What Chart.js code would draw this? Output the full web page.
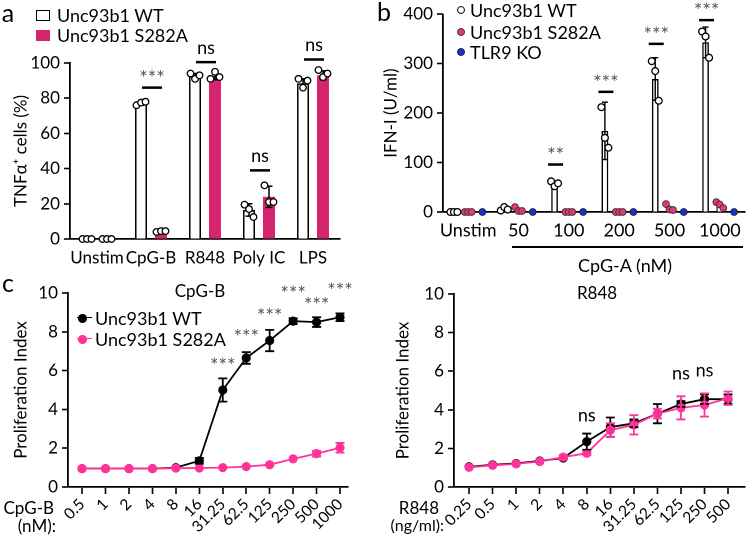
<!DOCTYPE html>
<html><head><meta charset="utf-8">
<script src="https://cdn.jsdelivr.net/npm/chart.js@4.4.1/dist/chart.umd.min.js"></script>
<style>
html,body{margin:0;padding:0;background:#fff}
body{width:750px;height:541px;position:relative;overflow:hidden;font-family:Lato,"Open Sans",sans-serif;color:#000}
canvas{position:absolute}
.t{position:absolute;white-space:nowrap;line-height:1;font-size:18px}
.c{transform:translate(-50%,-50%)}
.l{transform:translate(0,-50%)}
.r{transform:translate(-100%,-50%)}
.sw{position:absolute;box-sizing:border-box}
</style></head><body>
<canvas id="ca" width="375" height="270" style="left:0;top:0;width:375px;height:270px"></canvas>
<canvas id="cb" width="375" height="270" style="left:375px;top:0;width:375px;height:270px"></canvas>
<canvas id="cc" width="375" height="271" style="left:0;top:270px;width:375px;height:271px"></canvas>
<canvas id="cd" width="375" height="271" style="left:375px;top:270px;width:375px;height:271px"></canvas>

<!-- panel letters -->
<div class="t c" style="left:8px;top:12px;font-size:25px">a</div>
<div class="t c" style="left:384px;top:11px;font-size:25px">b</div>
<div class="t c" style="left:8px;top:282px;font-size:25px">c</div>

<!-- legend a -->
<div class="sw" style="left:36px;top:10px;width:14px;height:11px;border:1.5px solid #000;background:#fff"></div>
<div class="t l" style="left:57px;top:15px">Unc93b1 WT</div>
<div class="sw" style="left:36px;top:30px;width:14px;height:11px;background:#d6246e"></div>
<div class="t l" style="left:57px;top:35px">Unc93b1 S282A</div>

<!-- legend b -->
<div class="sw" style="left:457px;top:6px;width:8px;height:8px;border-radius:50%;border:1.3px solid #000;background:#fff"></div>
<div class="t l" style="left:470px;top:10px">Unc93b1 WT</div>
<div class="sw" style="left:457px;top:28px;width:8px;height:8px;border-radius:50%;border:1px solid #333;background:#e8367c"></div>
<div class="t l" style="left:470px;top:32px">Unc93b1 S282A</div>
<div class="sw" style="left:457px;top:48px;width:8px;height:8px;border-radius:50%;border:1px solid #222;background:#1a2fd0"></div>
<div class="t l" style="left:470px;top:52px">TLR9 KO</div>

<!-- b bracket -->
<div class="sw" style="left:512px;top:246px;width:231px;height:0;border-top:2px solid #000"></div>
<div class="t c" style="left:625px;top:265px">CpG-A (nM)</div>

<!-- legend c -->
<div class="sw" style="left:77px;top:317px;width:15px;height:0;border-top:1.8px solid #000"></div>
<div class="sw" style="left:78px;top:314px;width:9px;height:9px;border-radius:50%;background:#000"></div>
<div class="t l" style="left:95px;top:318px">Unc93b1 WT</div>
<div class="sw" style="left:77px;top:338px;width:15px;height:0;border-top:1.8px solid #ff3399"></div>
<div class="sw" style="left:78px;top:335px;width:9px;height:9px;border-radius:50%;background:#ff3399"></div>
<div class="t l" style="left:95px;top:339px">Unc93b1 S282A</div>

<!-- titles c/d -->
<div class="t c" style="left:200px;top:290px;font-size:17px">CpG-B</div>
<div class="t c" style="left:597px;top:292px;font-size:17px">R848</div>

<!-- x labels c/d -->
<div class="t r" style="left:54px;top:507px;font-size:17px">CpG-B</div>
<div class="t r" style="left:56px;top:525px;font-size:17px">(nM):</div>
<div class="t r" style="left:439px;top:507px;font-size:17px">R848</div>
<div class="t r" style="left:444px;top:525px;font-size:16px">(ng/ml):</div>

<script>
// ---------- Panel a data ----------
const catsA = ['Unstim', 'CpG-B', 'R848', 'Poly IC', 'LPS'];
const wtA = [0, 77, 92.5, 16.5, 88.5];
const s282aA = [0, 4, 92.5, 24, 93];
const wtAerr = [0, 1, 1.5, 3.5, 2.5];
const s282aAerr = [0, 0.4, 2, 6, 2.5];
const wtAdots = [[0, 0, 0], [76, 77.5, 78], [94, 91, 93], [19.5, 17, 12.5], [91, 86, 90]];
const s282aAdots = [[0, 0, 0], [4, 4.5, 4.5], [91, 95, 92], [30.5, 21, 21], [96, 92, 94]];
const sigA = ['', '***', 'ns', 'ns', 'ns'];
const sigLevelA = [null, 86, 100.5, 39, 102];

// ---------- Panel b data ----------
const catsB = ['Unstim', '50', '100', '200', '500', '1000'];
const wtB = [0, 5, 57, 164, 269, 343];
const wtBerr = [0, 3, 5, 58, 43, 31];
const s282aB = [0, 4, 0, 0, 8, 14];
const koB = [0, 0, 0, 0, 0, 0];
const wtBdots = [[0, 0, 0], [3, 10, 5], [62, 52, 58], [212, 150, 130], [305, 285, 225], [365, 355, 312]];
const s282aBdots = [[0, 0, 0], [10, 2, 2], [0, 0, 0], [0, 0, 0], [16, 5, 4], [20, 15, 8]];
const koBdots = [[0], [0], [0], [0], [0], [0]];
const sigB = ['', '', '**', '***', '***', '***'];
const sigLevelB = [null, null, 96, 243, 340, 388];

// ---------- Panel c data ----------
const labelsC = ['0.5', '1', '2', '4', '8', '16', '31.25', '62.5', '125', '250', '500', '1000'];
const wtC = [0.95, 0.95, 0.95, 0.95, 1.0, 1.35, 5.0, 6.65, 7.55, 8.55, 8.5, 8.75];
const wtCerr = [0, 0, 0, 0, 0, 0.15, 0.6, 0.3, 0.55, 0.15, 0.25, 0.2];
const s282aC = [0.95, 0.95, 0.95, 0.95, 0.97, 0.98, 1.0, 1.05, 1.15, 1.45, 1.72, 2.02];
const s282aCerr = [0, 0, 0, 0, 0, 0, 0, 0, 0.05, 0.08, 0.15, 0.25];
const sigC = ['', '', '', '', '', '', '***', '***', '***', '***', '***', '***'];
const sigLevelC = [null, null, null, null, null, null, 6.45, 7.9, 9.0, 10.15, 9.55, 10.3];

// ---------- Panel d data ----------
const labelsD = ['0.25', '0.5', '1', '2', '4', '8', '16', '31.25', '62.5', '125', '250', '500'];
const wtD = [1.05, 1.15, 1.22, 1.35, 1.5, 2.35, 3.1, 3.3, 3.8, 4.3, 4.55, 4.55];
const wtDerr = [0, 0, 0, 0, 0, 0.42, 0.5, 0.2, 0.5, 0.15, 0.25, 0.25];
const s282aD = [1.02, 1.12, 1.2, 1.32, 1.55, 1.75, 2.95, 3.22, 3.8, 4.1, 4.25, 4.6];
const s282aDerr = [0, 0, 0, 0, 0.1, 0.1, 0.35, 0.5, 0.25, 0.6, 0.6, 0.35];
const sigD = ['', '', '', '', '', 'ns', '', '', '', 'ns', 'ns', ''];
const sigLevelD = [null, null, null, null, null, 3.64, null, null, null, 5.8, 5.97, null];

// ---------- styling ----------
const FONT = 'Lato, "Open Sans", sans-serif';
const PINK_A = '#d6246e', PINK_B = '#e8367c', BLUE_B = '#1a2fd0', PINK_C = '#ff3399';
Chart.defaults.font.family = FONT;
Chart.defaults.font.size = 17;
Chart.defaults.color = '#000';
Chart.defaults.animation = false;
Chart.defaults.plugins.legend.display = false;
Chart.defaults.plugins.tooltip.enabled = false;

function yAxis(min, max, step, title, titlePad, width) {
  return {
    type: 'linear', min: min, max: max,
    ticks: { stepSize: step, padding: 4, color: '#000', font: { size: 17 } },
    grid: { display: true, drawOnChartArea: false, drawTicks: true, tickLength: 6, tickColor: '#000', tickWidth: 1.6 },
    border: { display: true, color: '#000', width: 1.8 },
    title: { display: true, text: title, color: '#000', font: { size: 17 }, padding: { top: titlePad, bottom: 0 } },
    afterFit: function (s) { s.width = width; }
  };
}

function circle(ctx, x, y, r, fill, stroke, lw) {
  ctx.beginPath(); ctx.arc(x, y, r, 0, Math.PI * 2);
  if (fill) { ctx.fillStyle = fill; ctx.fill(); }
  if (stroke) { ctx.lineWidth = lw; ctx.strokeStyle = stroke; ctx.stroke(); }
}
function errBar(ctx, x, y1, y2, cap, color, lw) {
  ctx.strokeStyle = color; ctx.lineWidth = lw;
  ctx.beginPath();
  ctx.moveTo(x, y1); ctx.lineTo(x, y2);
  ctx.moveTo(x - cap / 2, y1); ctx.lineTo(x + cap / 2, y1);
  ctx.moveTo(x - cap / 2, y2); ctx.lineTo(x + cap / 2, y2);
  ctx.stroke();
}
function sigLabel(ctx, s, x, y) {
  ctx.textAlign = 'center'; ctx.textBaseline = 'alphabetic';
  if (s.indexOf('*') >= 0) {
    ctx.font = '20px ' + FONT; ctx.fillStyle = '#555';
    ctx.fillText(s, x, y + 0.55 * 20);
  } else {
    ctx.font = '18px ' + FONT; ctx.fillStyle = '#000';
    ctx.fillText(s, x, y + 0.26 * 18);
  }
}
function hline(ctx, x1, x2, y, lw) {
  ctx.strokeStyle = '#000'; ctx.lineWidth = lw;
  ctx.beginPath(); ctx.moveTo(x1, y); ctx.lineTo(x2, y); ctx.stroke();
}

// ---------- Panel a ----------
const marksA = {
  id: 'marksA',
  afterDatasetsDraw(chart) {
    const ctx = chart.ctx, ys = chart.scales.y;
    const means = [wtA, s282aA], errs = [wtAerr, s282aAerr], dots = [wtAdots, s282aAdots];
    ctx.save();
    for (let d = 0; d < 2; d++) {
      chart.getDatasetMeta(d).data.forEach(function (bar, i) {
        const m = means[d][i], e = errs[d][i];
        if (e > 0) errBar(ctx, bar.x, ys.getPixelForValue(m - e), ys.getPixelForValue(m + e), 7, '#000', 1.5);
        dots[d][i].forEach(function (v, k) {
          circle(ctx, bar.x + (k - 1) * 4.5, ys.getPixelForValue(v), 3.3, '#fff', '#000', 1.3);
        });
      });
    }
    const m0 = chart.getDatasetMeta(0).data, m1 = chart.getDatasetMeta(1).data;
    sigA.forEach(function (s, i) {
      if (!s) return;
      const cx = (m0[i].x + m1[i].x) / 2 + 1;
      const y = ys.getPixelForValue(sigLevelA[i]);
      hline(ctx, cx - 10, cx + 10, y, 2.5);
      sigLabel(ctx, s, cx, y - 13);
    });
    ctx.restore();
  }
};

new Chart(document.getElementById('ca'), {
  type: 'bar',
  data: {
    labels: catsA,
    datasets: [
      { label: 'Unc93b1 WT', data: wtA, backgroundColor: '#fff', borderColor: '#000', borderWidth: 1.6, categoryPercentage: 0.74, barPercentage: 0.6 },
      { label: 'Unc93b1 S282A', data: s282aA, backgroundColor: PINK_A, borderWidth: 0, categoryPercentage: 0.74, barPercentage: 0.6 }
    ]
  },
  options: {
    responsive: false, devicePixelRatio: 2,
    layout: { padding: { top: 63, right: 35, left: 0, bottom: 0 } },
    scales: {
      x: {
        grid: { display: false, drawTicks: false }, border: { display: true, color: '#000', width: 1.8 },
        ticks: { padding: 9, color: '#000', font: { size: 17 }, autoSkip: false, maxRotation: 0 },
        afterFit: function (s) { s.height = 31; }
      },
      y: yAxis(0, 100, 20, 'TNFα\u207A cells (%)', 11, 70)
    }
  },
  plugins: [marksA]
});

// ---------- Panel b ----------
const marksB = {
  id: 'marksB',
  afterDatasetsDraw(chart) {
    const ctx = chart.ctx, ys = chart.scales.y;
    const means = [wtB, s282aB, koB], errs = [wtBerr, null, null], dots = [wtBdots, s282aBdots, koBdots];
    const fills = ['#fff', PINK_B, BLUE_B], strokes = ['#000', '#333', '#222'];
    ctx.save();
    for (let d = 0; d < 3; d++) {
      chart.getDatasetMeta(d).data.forEach(function (bar, i) {
        if (errs[d] && errs[d][i] > 0) {
          const m = means[d][i], e = errs[d][i];
          errBar(ctx, bar.x, ys.getPixelForValue(Math.max(0, m - e)), ys.getPixelForValue(m + e), 6, '#000', 1.4);
        }
        const n = dots[d][i].length;
        dots[d][i].forEach(function (v, k) {
          const off = n > 1 ? (k - (n - 1) / 2) * 3.5 : 0;
          circle(ctx, bar.x + off, ys.getPixelForValue(v), 3.4, fills[d], strokes[d], d === 0 ? 1.3 : 0.9);
        });
      });
    }
    const m0 = chart.getDatasetMeta(0).data;
    sigB.forEach(function (s, i) {
      if (!s) return;
      const cx = m0[i].x + 1;
      const y = ys.getPixelForValue(sigLevelB[i]);
      hline(ctx, cx - 7.5, cx + 7.5, y, 2.5);
      sigLabel(ctx, s, cx, y - 13);
    });
    ctx.restore();
  }
};

new Chart(document.getElementById('cb'), {
  type: 'bar',
  data: {
    labels: catsB,
    datasets: [
      { label: 'Unc93b1 WT', data: wtB, backgroundColor: '#fff', borderColor: '#000', borderWidth: 1.5, categoryPercentage: 0.85, barPercentage: 0.47 },
      { label: 'Unc93b1 S282A', data: s282aB, backgroundColor: '#fff', borderColor: '#000', borderWidth: 1.2, categoryPercentage: 0.85, barPercentage: 0.47 },
      { label: 'TLR9 KO', data: koB, backgroundColor: '#fff', borderWidth: 0, categoryPercentage: 0.85, barPercentage: 0.47 }
    ]
  },
  options: {
    responsive: false, devicePixelRatio: 2,
    layout: { padding: { top: 12, right: 5, left: 0, bottom: 0 } },
    scales: {
      x: {
        grid: { display: false, drawTicks: false }, border: { display: true, color: '#000', width: 1.8 },
        ticks: { padding: 8, color: '#000', font: { size: 18 }, autoSkip: false, maxRotation: 0 },
        afterFit: function (s) { s.height = 58; }
      },
      y: yAxis(0, 400, 100, 'IFN-I (U/ml)', 6, 68)
    }
  },
  plugins: [marksB]
});

// ---------- Panels c & d (line charts) ----------
function makeLine(id, labels, wt, wtErr, mut, mutErr, sig, sigLevel, xmin, xmax, padTop, padRight, yWidth, yTitlePad) {
  const marks = {
    id: 'marks' + id,
    afterDatasetsDraw(chart) {
      const ctx = chart.ctx, xs = chart.scales.x, ys = chart.scales.y;
      ctx.save();
      [[wt, wtErr, '#000'], [mut, mutErr, PINK_C]].forEach(function (g) {
        g[0].forEach(function (m, i) {
          const e = g[1][i];
          if (e > 0.08) errBar(ctx, xs.getPixelForValue(i), ys.getPixelForValue(m - e), ys.getPixelForValue(m + e), 9, g[2], 1.8);
        });
      });
      sig.forEach(function (s, i) {
        if (!s) return;
        sigLabel(ctx, s, xs.getPixelForValue(i), ys.getPixelForValue(sigLevel[i]));
      });
      ctx.restore();
    }
  };
  new Chart(document.getElementById(id), {
    type: 'line',
    data: {
      datasets: [
        { label: 'Unc93b1 S282A', data: mut.map(function (v, i) { return { x: i, y: v }; }), borderColor: PINK_C, backgroundColor: PINK_C, borderWidth: 1.8, pointRadius: 4.6, pointBorderWidth: 0, pointBackgroundColor: PINK_C, tension: 0 },
        { label: 'Unc93b1 WT', data: wt.map(function (v, i) { return { x: i, y: v }; }), borderColor: '#000', backgroundColor: '#000', borderWidth: 1.8, pointRadius: 4.6, pointBorderWidth: 0, pointBackgroundColor: '#000', tension: 0 }
      ]
    },
    options: {
      responsive: false, devicePixelRatio: 2,
      layout: { padding: { top: padTop, right: padRight, left: 0, bottom: 0 } },
      scales: {
        x: {
          type: 'linear', min: xmin, max: xmax,
          afterBuildTicks: function (s) { s.ticks = labels.map(function (_, i) { return { value: i }; }); },
          ticks: { autoSkip: false, minRotation: 45, maxRotation: 45, padding: 1, color: '#000', font: { size: 15.5 },
                   callback: function (v) { return labels[v]; } },
          grid: { display: true, drawOnChartArea: false, drawTicks: true, tickLength: 7, tickColor: '#000', tickWidth: 1.6 },
          border: { display: true, color: '#000', width: 1.8 },
          afterFit: function (s) { s.height = 54; }
        },
        y: yAxis(0, 10, 2, 'Proliferation Index', yTitlePad, yWidth)
      }
    },
    plugins: [marks]
  });
}

makeLine('cc', labelsC, wtC, wtCerr, s282aC, s282aCerr, sigC, sigLevelC, -0.6, 11.34, 23, 27, 68, 11);
makeLine('cd', labelsD, wtD, wtDerr, s282aD, s282aDerr, sigD, sigLevelD, -0.64, 11.72, 24, 5, 79, 18);
</script>
</body></html>
